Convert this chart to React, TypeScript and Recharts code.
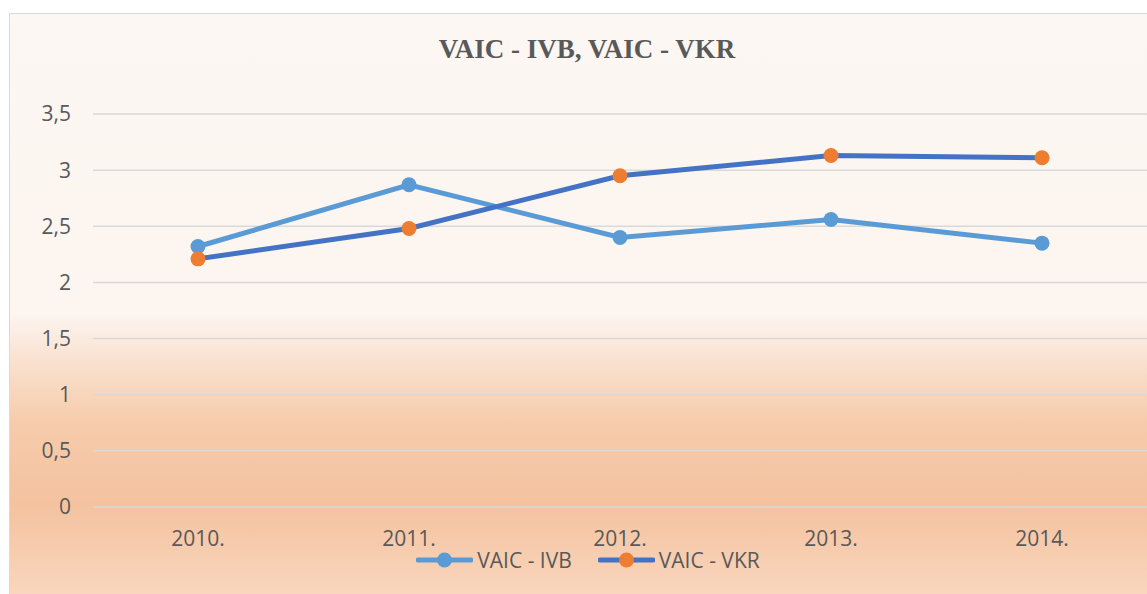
import React from "react";
import {
  LineChart,
  Line,
  XAxis,
  YAxis,
  CartesianGrid,
  Legend,
} from "recharts";

const years = ["2010.", "2011.", "2012.", "2013.", "2014."];
const vaicIvb = [2.32, 2.87, 2.4, 2.56, 2.35];
const vaicVkr = [2.21, 2.48, 2.95, 3.13, 3.11];
const yTicks = [0, 0.5, 1, 1.5, 2, 2.5, 3, 3.5];

const chartData = years.map((year, i) => ({
  year,
  ivb: vaicIvb[i],
  vkr: vaicVkr[i],
}));

const TEXT = "#595959";
const FONT = "'Open Sans', sans-serif";

const legendItems = [
  { label: "VAIC - IVB", line: "#5b9bd5", dot: "#5b9bd5" },
  { label: "VAIC - VKR", line: "#4472c4", dot: "#ed7d31" },
];

const ChartLegend = () => (
  <div
    style={{
      display: "flex",
      justifyContent: "center",
      alignItems: "center",
      height: 24,
      gap: 26,
      fontFamily: FONT,
      fontSize: 21,
      color: TEXT,
    }}
  >
    {legendItems.map((item) => (
      <div key={item.label} style={{ display: "flex", alignItems: "center" }}>
        <svg width={57} height={18}>
          <line x1={2} y1={9} x2={55} y2={9} stroke={item.line} strokeWidth={5} strokeLinecap="round" />
          <circle cx={28.5} cy={9} r={7.5} fill={item.dot} />
        </svg>
        <span style={{ marginLeft: 4, lineHeight: "24px" }}>{item.label}</span>
      </div>
    ))}
  </div>
);

export default function App() {
  return (
    <div
      style={{
        position: "fixed",
        left: 0,
        top: 0,
        width: 1147,
        height: 594,
        overflow: "hidden",
        background: "#fff",
      }}
    >
      <div
        style={{
          position: "absolute",
          left: 9,
          top: 13,
          width: 1156,
          height: 600,
          border: "1px solid #d9d9d9",
          background:
            "linear-gradient(to bottom, #fcf7f3 0px, #fcf5f0 300px, #f9e0cd 350px, #f6cbab 410px, #f4c29f 490px, #f9d6bd 580px, #f9d8c0 600px)",
        }}
      >
        <div
          style={{
            position: "absolute",
            top: 20,
            left: 0,
            width: 1154,
            textAlign: "center",
            fontFamily: "'Liberation Serif', 'Times New Roman', serif",
            fontWeight: "bold",
            fontSize: 27,
            lineHeight: "30px",
            color: TEXT,
          }}
        >
          VAIC - IVB, VAIC - VKR
        </div>
        <LineChart
          width={1156}
          height={600}
          data={chartData}
          margin={{ top: 100, right: 19, bottom: 42, left: 0 }}
        >
          <CartesianGrid vertical={false} stroke="#d9d9d9" strokeWidth={1.5} />
          <XAxis
            dataKey="year"
            height={41}
            axisLine={false}
            tickLine={false}
            tickSize={0}
            tickMargin={24}
            padding={{ left: 105, right: 105 }}
            tick={{ fontSize: 21, fill: TEXT, fontFamily: FONT }}
          />
          <YAxis
            width={83}
            domain={[0, 3.5]}
            ticks={yTicks}
            interval={0}
            axisLine={false}
            tickLine={false}
            tickSize={0}
            tickMargin={22}
            tickFormatter={(v) => String(v).replace(".", ",")}
            tick={{ fontSize: 21, fill: TEXT, fontFamily: FONT }}
          />
          <Legend
            verticalAlign="bottom"
            content={<ChartLegend />}
            wrapperStyle={{ left: 0, width: 1156 }}
          />
          <Line
            type="linear"
            dataKey="ivb"
            name="VAIC - IVB"
            stroke="#5b9bd5"
            strokeWidth={5}
            dot={{ r: 7.5, fill: "#5b9bd5", stroke: "none" }}
            isAnimationActive={false}
          />
          <Line
            type="linear"
            dataKey="vkr"
            name="VAIC - VKR"
            stroke="#4472c4"
            strokeWidth={5}
            dot={{ r: 7.5, fill: "#ed7d31", stroke: "none" }}
            isAnimationActive={false}
          />
        </LineChart>
      </div>
    </div>
  );
}
